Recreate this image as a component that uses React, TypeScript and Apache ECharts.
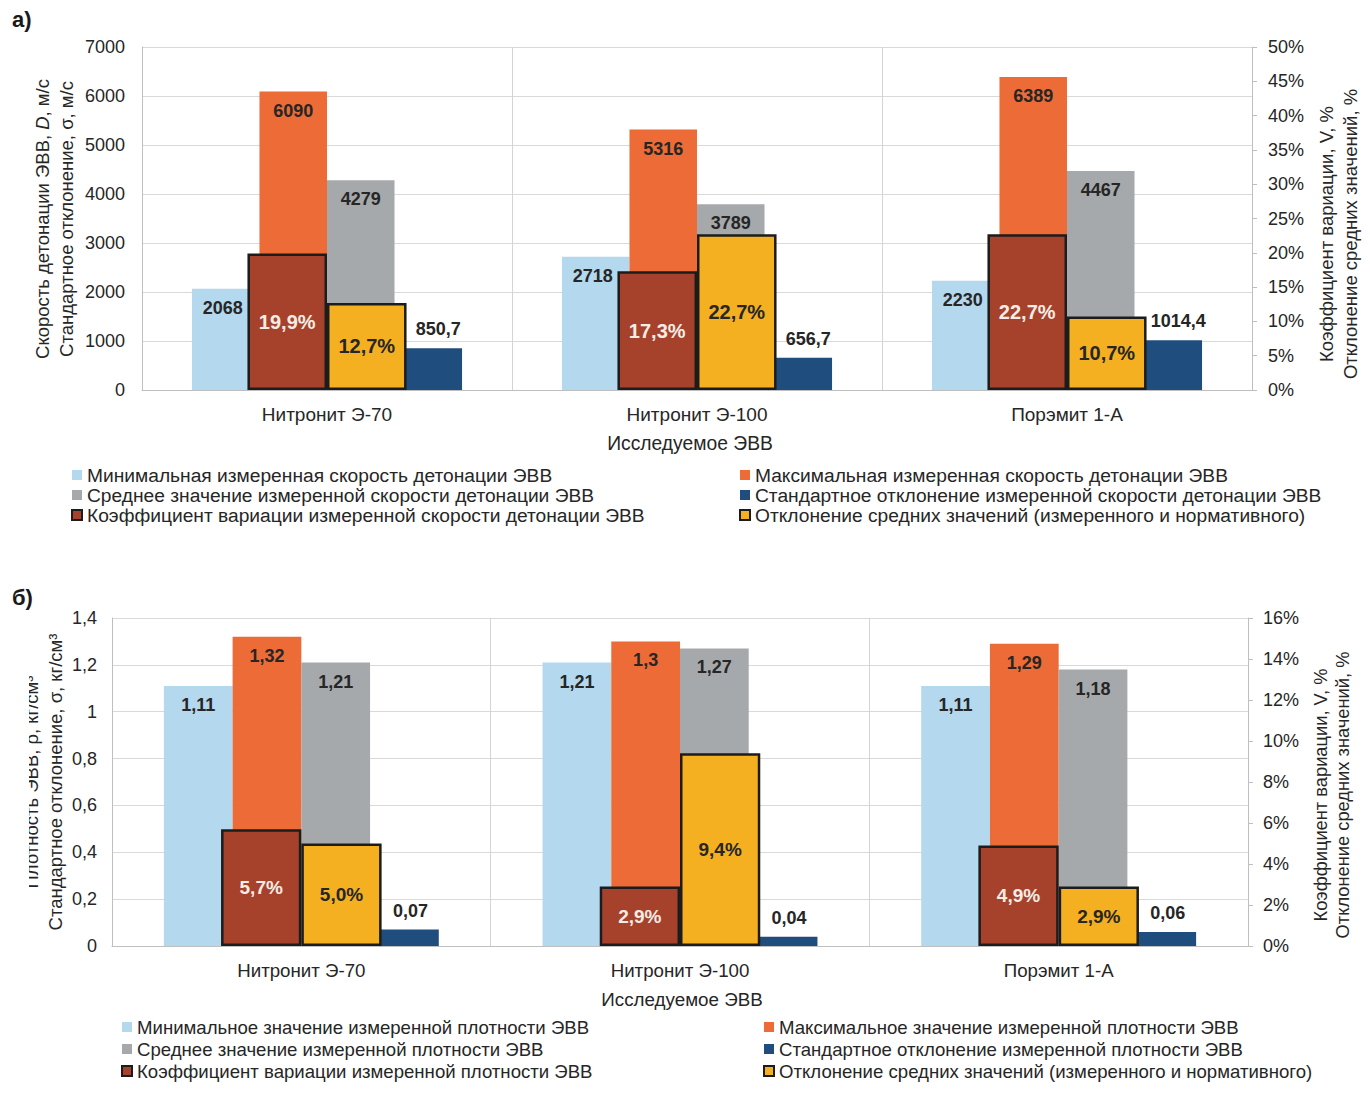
import React, { useEffect, useRef } from "react";
import * as echarts from "echarts";

const categories = ["Нитронит Э-70", "Нитронит Э-100", "Порэмит 1-А"];

// а) detonation velocity, m/s and %
const velMin = [2068, 2718, 2230];
const velMax = [6090, 5316, 6389];
const velMean = [4279, 3789, 4467];
const velStd = [850.7, 656.7, 1014.4];
const velCV = [19.9, 17.3, 22.7];
const velDev = [12.7, 22.7, 10.7];

// б) density, kg/cm3 and %
const denMin = [1.11, 1.21, 1.11];
const denMax = [1.32, 1.3, 1.29];
const denMean = [1.21, 1.27, 1.18];
const denStd = [0.07, 0.04, 0.06];
const denCV = [5.7, 2.9, 4.9];
const denDev = [5.0, 9.4, 2.9];

const namesA = [
  "Минимальная измеренная скорость детонации ЭВВ",
  "Максимальная измеренная скорость детонации ЭВВ",
  "Среднее значение измеренной скорости детонации ЭВВ",
  "Стандартное отклонение измеренной скорости детонации ЭВВ",
  "Коэффициент вариации измеренной скорости детонации ЭВВ",
  "Отклонение средних значений (измеренного и нормативного)",
];
const namesB = [
  "Минимальное значение измеренной плотности ЭВВ",
  "Максимальное значение измеренной плотности ЭВВ",
  "Среднее значение измеренной плотности ЭВВ",
  "Стандартное отклонение измеренной плотности ЭВВ",
  "Коэффициент вариации измеренной плотности ЭВВ",
  "Отклонение средних значений (измеренного и нормативного) ",
];

const FONT = '"Liberation Sans", Arial, sans-serif';
const COLORS = {
  min: "#b4d8ee",
  max: "#ec6b37",
  mean: "#a6a9ab",
  std: "#1f4e7e",
  cv: "#a6422b",
  dev: "#f5b022",
};
const TXT = "#262626";

const numFmt = (p: any) => String(p.value).replace(".", ",");
const pctFmt = (p: any) => Number(p.value).toFixed(1).replace(".", ",") + "%";

function primary(name: string, data: number[], color: string, xi: number, yi: number, pos: string, gap: string, dx: number) {
  return {
    type: "bar",
    name,
    data,
    xAxisIndex: xi,
    yAxisIndex: yi,
    barGap: "0%",
    barCategoryGap: gap,
    itemStyle: { color },
    z: 2,
    label: {
      show: true,
      position: pos,
      distance: 10,
      offset: [dx, 0],
      formatter: numFmt,
      color: TXT,
      fontWeight: "bold",
      fontSize: 18,
      fontFamily: FONT,
    },
  };
}

function secondary(name: string, data: number[], color: string, xi: number, yi: number, labelColor: string, gap: string, fs: number) {
  return {
    type: "bar",
    name,
    data,
    xAxisIndex: xi,
    yAxisIndex: yi,
    barGap: "0%",
    barCategoryGap: gap,
    itemStyle: { color, borderColor: "#1c1c1c", borderWidth: 2.5 },
    z: 3,
    label: {
      show: true,
      position: "inside",
      formatter: pctFmt,
      color: labelColor,
      fontWeight: "bold",
      fontSize: fs,
      fontFamily: FONT,
    },
  };
}

function catAxis(grid: number, visible: boolean, fs: number) {
  if (!visible) return { gridIndex: grid, type: "category", data: categories, show: false };
  return {
    gridIndex: grid,
    type: "category",
    data: categories,
    axisLine: { show: true, lineStyle: { color: "#bfbfbf", width: 1 } },
    axisTick: { show: false },
    axisLabel: { fontSize: fs, color: TXT, margin: 15, fontFamily: FONT },
    splitLine: { show: true, lineStyle: { color: "#d4d4d4", width: 1 } },
  };
}

function legendOf(names: string[], idx: number[], left: number, top: number, pitch: number, fs: number) {
  return {
    orient: "vertical",
    left,
    top,
    padding: 0,
    itemGap: 0,
    itemWidth: 10,
    itemHeight: 10,
    icon: "rect",
    selectedMode: false,
    textStyle: { fontSize: fs, lineHeight: pitch, color: TXT, fontFamily: FONT },
    data: idx.map((i) => ({
      name: names[i],
      itemStyle: i >= 4 ? { borderColor: "#1c1c1c", borderWidth: 2 } : { borderWidth: 0 },
    })),
  };
}

function vText(x: number, y: number, text: string, fs: number, rich?: any) {
  return {
    type: "text",
    x,
    y,
    rotation: Math.PI / 2,
    z: 10,
    style: {
      text,
      align: "center",
      verticalAlign: "middle",
      fontSize: fs,
      fontFamily: FONT,
      fill: TXT,
      rich: rich || {},
    },
  };
}

function hText(x: number, y: number, text: string, fs: number) {
  return {
    type: "text",
    x,
    y,
    z: 10,
    style: { text, align: "center", verticalAlign: "middle", fontSize: fs, fontFamily: FONT, fill: TXT },
  };
}

export default function App() {
  const ref = useRef<HTMLDivElement>(null);
  useEffect(() => {
    if (!ref.current) return;
    const chart = echarts.init(ref.current, null, { renderer: "svg" });
    const italic = { i: { fontStyle: "italic", fontSize: 18.5, fontFamily: FONT, fill: TXT } };
    const option: any = {
      animation: false,
      backgroundColor: "#ffffff",
      grid: [
        { left: 142, top: 47, width: 1110, height: 343, containLabel: false },
        { left: 112, top: 618, width: 1136, height: 328, containLabel: false },
      ],
      xAxis: [catAxis(0, true, 19), catAxis(0, false, 19), catAxis(1, true, 18.7), catAxis(1, false, 18.7)],
      yAxis: [
        {
          gridIndex: 0,
          type: "value",
          min: 0,
          max: 7000,
          interval: 1000,
          axisLine: { show: true, lineStyle: { color: "#bfbfbf" } },
          axisTick: { show: false },
          axisLabel: { fontSize: 18, color: TXT, margin: 17, fontFamily: FONT, formatter: (v: number) => String(v) },
          splitLine: { show: true, lineStyle: { color: "#d9d9d9" } },
        },
        {
          gridIndex: 0,
          type: "value",
          position: "right",
          min: 0,
          max: 50,
          interval: 5,
          axisLine: { show: true, lineStyle: { color: "#bfbfbf" } },
          axisTick: { show: true, length: 5, lineStyle: { color: "#bfbfbf" } },
          axisLabel: { fontSize: 18, color: TXT, margin: 16, fontFamily: FONT, formatter: "{value}%" },
          splitLine: { show: false },
        },
        {
          gridIndex: 1,
          type: "value",
          min: 0,
          max: 1.4,
          interval: 0.2,
          axisLine: { show: true, lineStyle: { color: "#bfbfbf" } },
          axisTick: { show: false },
          axisLabel: {
            fontSize: 18,
            color: TXT,
            margin: 15,
            fontFamily: FONT,
            formatter: (v: number) => String(+v.toFixed(1)).replace(".", ","),
          },
          splitLine: { show: true, lineStyle: { color: "#d9d9d9" } },
        },
        {
          gridIndex: 1,
          type: "value",
          position: "right",
          min: 0,
          max: 16,
          interval: 2,
          axisLine: { show: true, lineStyle: { color: "#bfbfbf" } },
          axisTick: { show: true, length: 5, lineStyle: { color: "#bfbfbf" } },
          axisLabel: { fontSize: 18, color: TXT, margin: 15, fontFamily: FONT, formatter: "{value}%" },
          splitLine: { show: false },
        },
      ],
      legend: [
        legendOf(namesA, [0, 2, 4], 71, 465, 20, 19.2),
        legendOf(namesA, [1, 3, 5], 739, 465, 20, 19.2),
        legendOf(namesB, [0, 2, 4], 121, 1016, 22, 18.6),
        legendOf(namesB, [1, 3, 5], 763, 1016, 22, 18.6),
      ],
      series: [
        primary(namesA[0], velMin, COLORS.min, 0, 0, "insideTop", "27%", -3),
        primary(namesA[1], velMax, COLORS.max, 0, 0, "insideTop", "27%", 0),
        primary(namesA[2], velMean, COLORS.mean, 0, 0, "insideTop", "27%", 0),
        primary(namesA[3], velStd, COLORS.std, 0, 0, "top", "27%", 10),
        secondary(namesA[4], velCV, COLORS.cv, 1, 1, "#f6ece6", "57%", 20),
        secondary(namesA[5], velDev, COLORS.dev, 1, 1, TXT, "57%", 20),
        primary(namesB[0], denMin, COLORS.min, 2, 2, "insideTop", "27.4%", 0),
        primary(namesB[1], denMax, COLORS.max, 2, 2, "insideTop", "27.4%", 0),
        primary(namesB[2], denMean, COLORS.mean, 2, 2, "insideTop", "27.4%", 0),
        primary(namesB[3], denStd, COLORS.std, 2, 2, "top", "27.4%", 6),
        secondary(namesB[4], denCV, COLORS.cv, 3, 3, "#f6ece6", "57.6%", 19),
        secondary(namesB[5], denDev, COLORS.dev, 3, 3, TXT, "57.6%", 19),
      ],
      graphic: [
        {
          type: "text",
          x: 12,
          y: 8,
          z: 10,
          style: { text: "а)", font: 'bold 22px "Liberation Sans Narrow", "Liberation Sans", sans-serif', fill: "#1a1a1a" },
        },
        {
          type: "text",
          x: 12,
          y: 586,
          z: 10,
          style: { text: "б)", font: 'bold 22px "Liberation Sans Narrow", "Liberation Sans", sans-serif', fill: "#1a1a1a" },
        },
        vText(42, 219, "Скорость детонации ЭВВ, {i|D}, м/с", 18.5, italic),
        vText(66, 219, "Стандартное отклонение, σ, м/с", 18.5),
        vText(1326, 234, "Коэффициент вариации, V, %", 18.5),
        vText(1350, 234, "Отклонение средних значений, %", 18.5),
        vText(31, 782, "Плотность ЭВВ, ρ, кг/см³", 18.5),
        vText(55, 782, "Стандартное отклонение, σ, кг/см³", 18.5),
        {
          type: "rect",
          z: 20,
          shape: { x: 0, y: 630, width: 29, height: 300 },
          style: { fill: "#ffffff" },
        },
        vText(1320, 795, "Коэффициент вариации, V, %", 18.3),
        vText(1342, 795, "Отклонение средних значений, %", 18.3),
        hText(690, 443, "Исследуемое ЭВВ", 19.3),
        hText(682, 999, "Исследуемое ЭВВ", 18.8),
      ],
    };
    chart.setOption(option);
    return () => chart.dispose();
  }, []);
  return (
    <div
      ref={ref}
      style={{ position: "absolute", left: 0, top: 0, width: 1370, height: 1098, background: "#fff" }}
    />
  );
}
